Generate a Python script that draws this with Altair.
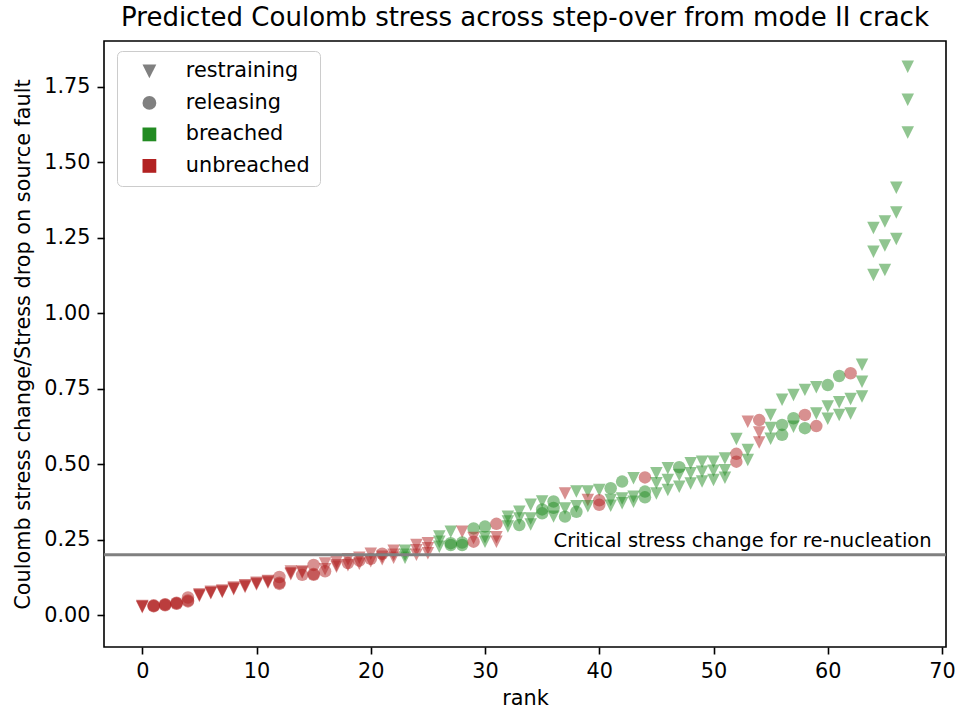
import altair as alt
import pandas as pd

# ---- data ----
rank = [0, 0, 0, 1, 1, 1, 2, 2, 2, 3, 3, 3, 4, 4, 4, 5, 5, 5,
        6, 6, 6, 7, 7, 7, 8, 8, 8, 9, 9, 9, 10, 10, 10, 11, 11, 11,
        12, 12, 12, 13, 13, 13, 14, 14, 14, 15, 15, 15, 16, 16, 16, 17, 17, 17,
        18, 18, 18, 19, 19, 19, 20, 20, 20, 21, 21, 21,
        22, 22, 22, 23, 23, 23, 24, 24, 24, 25, 25, 25,
        26, 26, 26, 27, 27, 27, 28, 28, 28, 29, 29, 29,
        30, 30, 30, 31, 31, 31, 32, 32, 32, 33, 33, 33,
        34, 34, 34, 35, 35, 35, 36, 36, 36, 37, 37, 37,
        38, 38, 38, 39, 39, 39, 40, 40, 40, 41, 41, 41,
        42, 42, 42, 43, 43, 43, 44, 44, 44, 45, 45, 45,
        46, 46, 46, 47, 47, 47, 48, 48, 48, 49, 49, 49,
        50, 50, 50, 51, 51, 51, 52, 52, 52, 53, 53, 53,
        54, 54, 54, 55, 55, 55, 56, 56, 56, 57, 57, 57,
        58, 58, 58, 59, 59, 59, 60, 60, 60, 61, 61, 61,
        62, 62, 62, 63, 63, 63, 64, 64, 64, 65, 65, 65,
        66, 66, 66, 67, 67, 67]

stress = [0.026, 0.028, 0.030, 0.029, 0.030, 0.032, 0.032, 0.034, 0.036,
          0.037, 0.039, 0.041, 0.045, 0.048, 0.058, 0.063, 0.066, 0.068,
          0.072, 0.074, 0.077, 0.076, 0.078, 0.081, 0.085, 0.088, 0.091,
          0.093, 0.096, 0.099, 0.101, 0.104, 0.107, 0.107, 0.110, 0.113,
          0.103, 0.107, 0.126, 0.135, 0.138, 0.144, 0.141, 0.144, 0.133,
          0.166, 0.133, 0.136, 0.171, 0.145, 0.152, 0.160, 0.165, 0.176,
          0.165, 0.172, 0.185, 0.170, 0.180, 0.190, 0.178, 0.186, 0.203, 0.185, 0.203, 0.193,
          0.190, 0.200, 0.213, 0.190, 0.200, 0.213, 0.200, 0.215, 0.232, 0.205, 0.221, 0.238,
          0.226, 0.243, 0.260, 0.232, 0.276, 0.238, 0.276, 0.232, 0.240, 0.287, 0.243, 0.255,
          0.293, 0.243, 0.258, 0.302, 0.243, 0.258, 0.326, 0.293, 0.310, 0.298, 0.342, 0.320,
          0.365, 0.320, 0.300, 0.376, 0.337, 0.350, 0.376, 0.326, 0.355, 0.403, 0.353, 0.326,
          0.409, 0.360, 0.342, 0.409, 0.381, 0.360, 0.414, 0.380, 0.365, 0.420, 0.381, 0.362,
          0.442, 0.386, 0.370, 0.453, 0.392, 0.375, 0.456, 0.409, 0.390, 0.470, 0.437, 0.403,
          0.486, 0.447, 0.414, 0.490, 0.464, 0.425, 0.503, 0.470, 0.436, 0.508, 0.475, 0.442,
          0.508, 0.478, 0.447, 0.519, 0.480, 0.455, 0.583, 0.534, 0.508, 0.640, 0.547, 0.514,
          0.646, 0.605, 0.572, 0.663, 0.620, 0.584, 0.713, 0.630, 0.597, 0.729, 0.652, 0.624,
          0.746, 0.663, 0.619, 0.755, 0.668, 0.626, 0.762, 0.691, 0.650, 0.792, 0.705, 0.663,
          0.801, 0.716, 0.668, 0.829, 0.773, 0.724, 1.282, 1.204, 1.127, 1.304, 1.224, 1.143,
          1.416, 1.334, 1.246, 1.817, 1.707, 1.599]

# v = restraining, o = releasing
mech_codes = ("v v v o o o o o o o o o o o o v v v "
              "v v v v v v v v v v v v v v v v v v "
              "o o o v v v v v o o o o v o v v v v "
              "v o v v o v v o v v o v "
              "v v v v v v v v v v v v "
              "v v v o v o v o o o o v "
              "o v v o v v v v v o v v "
              "v v v v o o o v o v v o "
              "v v o v v v v o o o v v "
              "o v v v v v o o o v v v "
              "v v v o v v v v v v v v "
              "v v v v v v v o o v v v "
              "o v v v v v v o o v o v "
              "v o o v v o o v v o v v "
              "o v v v v v v v v v v v "
              "v v v v v v").split()

# g = breached, r = unbreached
out_codes = ("r r r r r r r r r r r r r r r r r r "
             "r r r r r r r r r r r r r r r r r r "
             "r r r r r r r r r r r r r r r r r r "
             "r r r r r r r r r r r r "
             "r r r g g g r r r r r r "
             "g g g g g g r g g g r r "
             "g g g r r r g g g g g g "
             "g g g g g g g g g r g g "
             "g g g g r g g r r g g g "
             "g g g g g g r g g g g g "
             "g g g g g g g g g g g g "
             "g g g g g g g r r r g g "
             "r r r g g g g g g g g g "
             "g r g g g r g g g g g g "
             "r g g g g g g g g g g g "
             "g g g g g g").split()

mechanism = ["restraining" if c == "v" else "releasing" for c in mech_codes]
outcome = ["breached" if c == "g" else "unbreached" for c in out_codes]

legend_items = ["restraining", "releasing", "breached", "unbreached"]
note_x = [36]
note_y = [0.224]
note_text = ["Critical stress change for re-nucleation"]
critical = [0.2]

x_ticks = [0, 10, 20, 30, 40, 50, 60, 70]
y_ticks = [0.0, 0.25, 0.5, 0.75, 1.0, 1.25, 1.5, 1.75]

df = pd.DataFrame({"rank": rank, "stress": stress,
                   "mechanism": mechanism, "outcome": outcome})
leg_df = pd.DataFrame({"item": legend_items})
note_df = pd.DataFrame({"x": note_x, "y": note_y, "t": note_text})
crit_df = pd.DataFrame({"y": critical})

TRI = "M-1,-1L1,-1L0,1Z"
GREEN = "#228B22"
RED = "#B22222"
FONT = "DejaVu Sans"

xs = alt.Scale(domain=[-3.35, 70.35], nice=False, zero=False)
ys = alt.Scale(domain=[-0.106, 1.902], nice=False, zero=False)

xenc = alt.X("rank:Q", scale=xs, title="rank",
             axis=alt.Axis(values=x_ticks, format="d", titlePadding=8))
yenc = alt.Y("stress:Q", scale=ys,
             title="Coulomb stress change/Stress drop on source fault",
             axis=alt.Axis(values=y_ticks, format=".2f", titlePadding=10))

points = alt.Chart(df).mark_point(filled=True, opacity=0.5, size=156, strokeWidth=0).encode(
    x=xenc,
    y=yenc,
    color=alt.Color("outcome:N",
                    scale=alt.Scale(domain=["breached", "unbreached"], range=[GREEN, RED]),
                    legend=None),
    shape=alt.Shape("mechanism:N",
                    scale=alt.Scale(domain=["restraining", "releasing"], range=[TRI, "circle"]),
                    legend=None),
)

legend_layer = alt.Chart(leg_df).transform_filter("false").mark_point(
    filled=True, opacity=1, size=156, strokeWidth=0
).encode(
    x=alt.X("rank:Q", scale=xs),
    y=alt.Y("stress:Q", scale=ys),
    color=alt.Color("item:N",
                    scale=alt.Scale(domain=legend_items,
                                    range=["#808080", "#808080", GREEN, RED]),
                    legend=alt.Legend(title=None, orient="none", legendX=13, legendY=10,
                                      direction="vertical")),
    shape=alt.Shape("item:N",
                    scale=alt.Scale(domain=legend_items,
                                    range=[TRI, "circle", "square", "square"]),
                    legend=alt.Legend(title=None, orient="none", legendX=13, legendY=10,
                                      direction="vertical")),
)

rule = alt.Chart(crit_df).mark_rule(color="#808080", strokeWidth=3).encode(
    y=alt.Y("y:Q", scale=ys)
)

note = alt.Chart(note_df).mark_text(
    align="left", baseline="alphabetic", fontSize=19.5, font=FONT, color="black"
).encode(
    x=alt.X("x:Q", scale=xs),
    y=alt.Y("y:Q", scale=ys),
    text="t:N",
)

chart = alt.layer(points, legend_layer, rule, note).resolve_scale(
    color="independent", shape="independent"
).properties(
    width=842, height=606,
    title=alt.TitleParams("Predicted Coulomb stress across step-over from mode II crack",
                          font=FONT, fontSize=26, fontWeight="normal", color="black",
                          anchor="middle", offset=10),
    autosize=alt.AutoSizeParams(type="none"),
    padding={"left": 104, "top": 41, "right": 10, "bottom": 62},
).configure_view(
    stroke="black", strokeWidth=1.6
).configure_axis(
    domain=False, grid=False, ticks=True, tickColor="black", tickWidth=1.6, tickSize=7,
    labelFont=FONT, labelFontSize=20.8, labelColor="black", labelPadding=7,
    labelFlush=False, labelOverlap=False,
    titleFont=FONT, titleFontSize=20.8, titleFontWeight="normal", titleColor="black",
).configure_legend(
    labelFont=FONT, labelFontSize=20.8, labelColor="black",
    symbolSize=190, symbolStrokeWidth=0, padding=10, rowPadding=9.5,
    symbolOffset=12, labelOffset=26,
    strokeColor="#cccccc", fillColor="rgba(255,255,255,0.8)", cornerRadius=5,
)

chart.save("out.html", embed_options={"renderer": "svg", "actions": False})
